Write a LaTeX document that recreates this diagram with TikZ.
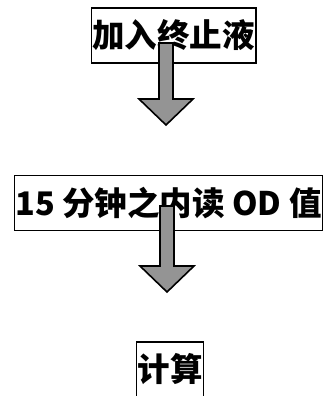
\documentclass[tikz,border=0pt]{standalone}
\usepackage{fontspec}
\newfontfamily\cjk{Noto Sans CJK SC}
\usetikzlibrary{calc}
\tikzset{
	stepbox/.style={draw=black, line width=1.5pt, inner xsep=1pt, inner ysep=0pt,
		minimum height=55pt, font=\cjk\bfseries\fontsize{32.5}{35}\selectfont},
	arrowbody/.style={draw=black, line width=1.6pt, fill=black!42, line join=miter}
}
% block arrow pointing down, #1 = top of shaft, #2 = tip
\newcommand{\blockarrow}[2]{%
	\draw [arrowbody] ($(#1)+(-7,0)$) -- ($(#2)+(-7,26)$) -- ($(#2)+(-27,26)$) -- (#2)
		-- ($(#2)+(27,26)$) -- ($(#2)+(7,26)$) -- ($(#1)+(7,0)$) -- cycle;}
\begin{document}
\begin{tikzpicture}[x=1pt,y=1pt]
	\useasboundingbox (0,0) rectangle (326,-396);
	\node [stepbox] (add) at (173.5,-35.5) {加入终止液};
	\node [stepbox] (read) at (168.5,-203) {15 分钟之内读 OD 值};
	\node [stepbox] (calc) at (170,-369.5) {计算};
	\coordinate (a1top) at (166,-43);
	\coordinate (a1tip) at (166,-125);
	\coordinate (a2top) at (167,-206);
	\coordinate (a2tip) at (167,-292);
	\blockarrow{a1top}{a1tip}
	\blockarrow{a2top}{a2tip}
\end{tikzpicture}
\end{document}
